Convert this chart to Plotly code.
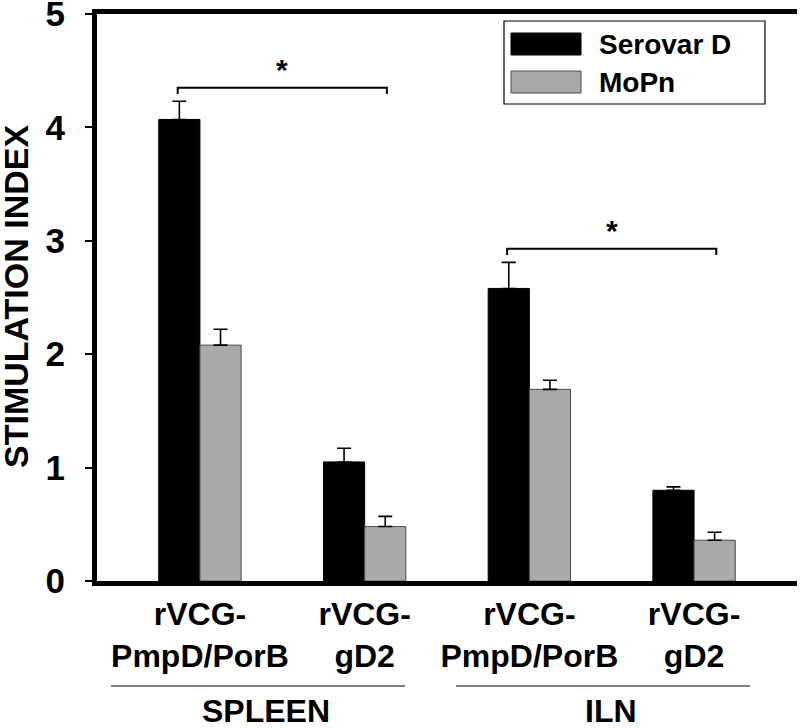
import plotly.graph_objects as go

# ---- data ----
categories = ["rVCG-<br>PmpD/PorB", "rVCG-<br>gD2", "rVCG-<br>PmpD/PorB", "rVCG-<br>gD2"]
groups = ["SPLEEN", "ILN"]
serovar_d = [4.07, 1.05, 2.58, 0.80]
serovar_d_err = [0.16, 0.12, 0.23, 0.03]
mopn = [2.08, 0.48, 1.69, 0.36]
mopn_err = [0.14, 0.09, 0.08, 0.07]
series_names = ["Serovar D", "MoPn"]

FONT = "Liberation Sans, Arial, sans-serif"
W, H = 800, 728
L, R, T, B = 97, 3, 14, 147
PW, PH = W - L - R, H - T - B


def px(x):
    return (x - L) / PW


def py(y):
    return (H - B - y) / PH


xpos = list(range(len(categories)))
black_x = [x - 0.125 for x in xpos]
gray_x = [x + 0.125 for x in xpos]

fig = go.Figure()
fig.add_trace(go.Bar(
    x=xpos, y=serovar_d, name=series_names[0],
    marker=dict(color="#000000", line=dict(color="#000000", width=1)),
    error_y=dict(type="data", symmetric=False, array=serovar_d_err,
                 arrayminus=[0] * 4, color="#000000", thickness=1.6, width=7),
))
fig.add_trace(go.Bar(
    x=xpos, y=mopn, name=series_names[1],
    marker=dict(color="#a9a9a9", line=dict(color="#4a4a4a", width=1)),
    error_y=dict(type="data", symmetric=False, array=mopn_err,
                 arrayminus=[0] * 4, color="#000000", thickness=1.6, width=7),
))

shapes = []
annotations = []

# significance brackets: black bar of construct 1 vs gray bar of construct 2
for g in range(2):
    i0, i1 = 2 * g, 2 * g + 1
    top = max(serovar_d[i0] + serovar_d_err[i0], mopn[i1] + mopn_err[i1])
    yb = top + 0.12
    x0, x1 = black_x[i0] - 0.01, gray_x[i1] + 0.01
    shapes.append(dict(type="path", xref="x", yref="y",
                       path=f"M {x0},{yb-0.055} L {x0},{yb} L {x1},{yb} L {x1},{yb-0.055}",
                       line=dict(color="#000000", width=2)))
    annotations.append(dict(x=(x0 + x1) / 2, y=yb + 0.16, xref="x", yref="y",
                            text="<b>*</b>", showarrow=False,
                            font=dict(family=FONT, size=30, color="#000000")))

# group labels and underlines
group_shift = [0.0, 0.095]
for g, name in enumerate(groups):
    c0, c1 = 2 * g, 2 * g + 1
    s = group_shift[g]
    shapes.append(dict(type="line", xref="x", yref="paper",
                       x0=c0 - 0.54 + s, x1=c1 + 0.245 + s, y0=py(686), y1=py(686),
                       line=dict(color="#808080", width=2)))
    annotations.append(dict(x=(c0 + c1) / 2 - 0.1 + s, y=py(711), xref="x", yref="paper",
                            text=f"<b>{name}</b>", showarrow=False,
                            xanchor="center", yanchor="middle",
                            font=dict(family=FONT, size=32, color="#000000")))

# y-axis title
annotations.append(dict(x=px(16), y=py(297), xref="paper", yref="paper",
                        text="<b>STIMULATION INDEX</b>", textangle=-90,
                        showarrow=False, xanchor="center", yanchor="middle",
                        font=dict(family=FONT, size=34, color="#000000")))

# legend (drawn manually to match the large swatches)
shapes.append(dict(type="rect", xref="paper", yref="paper",
                   x0=px(504), x1=px(765), y0=py(104), y1=py(21),
                   line=dict(color="#000000", width=1.2), fillcolor="white"))
swatch_colors = [("#000000", "#000000"), ("#a9a9a9", "#4a4a4a")]
rows = [(33, 55), (71, 93)]
for (fc, lc), (y0, y1), name in zip(swatch_colors, rows, series_names):
    shapes.append(dict(type="rect", xref="paper", yref="paper",
                       x0=px(511), x1=px(581), y0=py(y1), y1=py(y0),
                       line=dict(color=lc, width=1), fillcolor=fc))
    annotations.append(dict(x=px(597), y=py((y0 + y1) / 2), xref="paper", yref="paper",
                            text=f"<b>{name}</b>", showarrow=False,
                            xanchor="left", yanchor="middle",
                            font=dict(family=FONT, size=28, color="#000000")))

fig.update_layout(
    width=W, height=H,
    margin=dict(l=L, r=R, t=T, b=B, autoexpand=False),
    plot_bgcolor="white", paper_bgcolor="white",
    barmode="group", bargap=0.5, bargroupgap=0,
    showlegend=False,
    shapes=shapes, annotations=annotations,
    font=dict(family=FONT, color="#000000"),
)
fig.update_xaxes(
    range=[-0.625, 3.625], tickvals=xpos,
    ticktext=[f"<b>{c}</b>" for c in categories],
    tickfont=dict(family=FONT, size=32, color="#000000"),
    ticks="", ticklabelstandoff=1, ticklabeloverflow="allow",
    showline=True, linewidth=5, linecolor="#000000", mirror=True,
    showgrid=False, zeroline=False, fixedrange=True,
)
fig.update_yaxes(
    range=[0, 5], tickvals=[0, 1, 2, 3, 4, 5],
    ticktext=[f"<b>{v}</b>" for v in [0, 1, 2, 3, 4, 5]],
    tickfont=dict(family=FONT, size=35, color="#000000"),
    ticks="outside", ticklen=7, tickwidth=2, tickcolor="#000000",
    ticklabelstandoff=13, ticklabeloverflow="allow",
    showline=True, linewidth=5, linecolor="#000000",
    showgrid=False, zeroline=False, fixedrange=True,
)

fig.write_html("out.html",
               config={"displayModeBar": False},
               post_script="document.body.style.margin='0px';")
